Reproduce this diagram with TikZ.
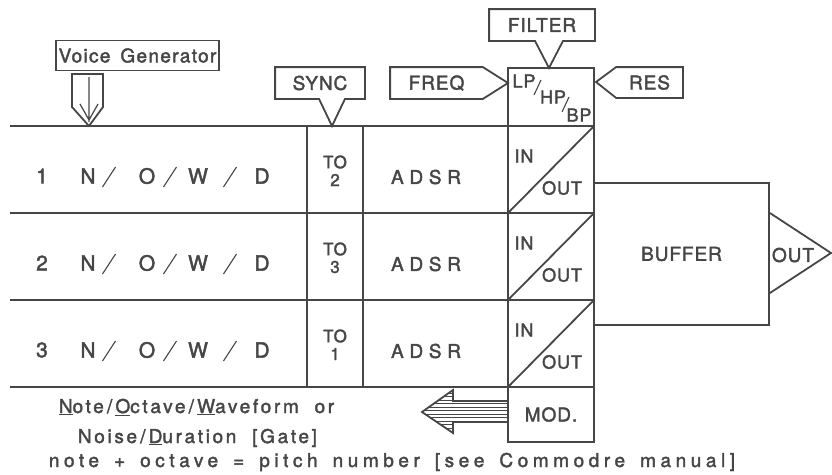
\documentclass[tikz,border=0pt]{standalone}
\usepackage{fontspec}
\setmainfont{TeX Gyre Heros}[LetterSpace=5, FakeBold=2]
\newfontfamily\lowerfont{TeX Gyre Heros}[LetterSpace=14, FakeBold=2]
\newfontfamily\spreadfont{TeX Gyre Heros}[LetterSpace=24, FakeBold=2]
\newfontfamily\adsrfont{TeX Gyre Heros}[LetterSpace=30, FakeBold=2]
\usetikzlibrary{calc}
\definecolor{ink}{RGB}{70,70,70}
\newcommand{\gap}{\hspace{15pt}}

\begin{document}
\begin{tikzpicture}[x=1pt, y=-1pt, line width=1.8pt, color=ink,
    font=\fontsize{19}{22}\selectfont,
    lbl/.style={inner sep=0pt, minimum height=30pt},
    cell/.style={font=\fontsize{18}{20}\selectfont, inner sep=0pt},
    rowtxt/.style={inner sep=0pt, font=\fontsize{21}{24}\selectfont},
    totxt/.style={inner sep=0pt, font=\fontsize{17}{19}\selectfont},
    legend/.style={anchor=base west, inner sep=0pt, font=\lowerfont\fontsize{19}{22}\selectfont},
    slashline/.style={line width=1.1pt},
    rowline/.style={line width=2.2pt},
    hatch/.style={line width=0.9pt}]
  \useasboundingbox (0,0) rectangle (832,474);

  % labels along the top
  \node[lbl, draw, minimum width=163pt] (vg) at (137.5,55.5)
    {{\addfontfeature{LetterSpace=7}Voice\hspace{10pt}Generator}};
  \draw (72,74) -- (103,74) -- (103,107) -- (89,126) -- (72,107) -- cycle;
  \draw[line width=1.2pt] (89,77) -- (89,122) (80,104) -- (89,120) -- (98,104);

  \node[lbl, minimum width=88pt] (sync) at (320,83) {SYNC};
  \coordinate (synctip) at (332,126);
  \draw (sync.south west) -- (sync.north west) -- (sync.north east) -- (sync.south east)
    -- ($(synctip |- sync.south)+(13,0)$) -- (synctip) -- ($(synctip |- sync.south)+(-13,0)$) -- cycle;

  \node[lbl, minimum width=91pt] (freq) at (436.5,83) {FREQ};
  \coordinate (freqtip) at (508,83);
  \draw (freq.south east) -- (freq.south west) -- (freq.north west) -- (freq.north east)
    -- (freqtip) -- cycle;

  \node[lbl, minimum width=104pt] (filt) at (542,25) {FILTER};
  \coordinate (filttip) at (549,68);
  \draw (filt.south west) -- (filt.north west) -- (filt.north east) -- (filt.south east)
    -- ($(filttip |- filt.south)+(14,0)$) -- (filttip) -- ($(filttip |- filt.south)+(-14,0)$) -- cycle;

  \node[lbl, minimum width=65pt, minimum height=29pt] (res) at (649.5,82.5) {RES};
  \coordinate (restip) at (596,82);
  \draw (res.north west) -- (res.north east) -- (res.south east) -- (res.south west)
    -- (restip) -- cycle;

  % filter mode cell
  \node[draw, inner sep=0pt, minimum width=86pt, minimum height=58pt] (mode) at (551,97) {};
  \node[cell] (lp) at (524,81) {LP};
  \node[cell] (hp) at (553,97) {HP};
  \node[cell] (bp) at (579,115) {BP};
  \draw[slashline] (534,95) -- (541,80) (562,112) -- (569,97);

  % voice rows
  \draw[rowline] (10,126) -- (594,126);
  \foreach \r/\t in {1/2, 2/3, 3/1} {
    \pgfmathsetmacro\ytop{126+87*(\r-1)}
    \pgfmathsetmacro\ybot{\ytop+87}
    \draw[rowline] (10,\ybot) -- (594,\ybot);
    \node[rowtxt] (num\r) at (42,\ytop+50) {\r};
    \node[rowtxt] (n\r) at (88,\ytop+50) {N};
    \node[rowtxt] (o\r) at (147,\ytop+50) {O};
    \node[rowtxt] (w\r) at (198,\ytop+50) {W};
    \node[rowtxt] (d\r) at (262,\ytop+50) {D};
    \foreach \sx in {109,170,230}
      \draw[slashline] (\sx-6.5,\ytop+61) -- (\sx+6.5,\ytop+41);
    \node[totxt] (to\r) at (335,\ytop+36) {TO};
    \node[totxt] (tn\r) at (335,\ytop+54) {\t};
    \node[inner sep=0pt, font=\adsrfont\fontsize{19}{22}\selectfont] (adsr\r) at (426,\ytop+51) {ADSR};
    \draw (508,\ybot) -- (594,\ytop);
    \node[cell] (in\r) at (524,\ytop+30) {IN};
    \node[cell] (out\r) at (562,\ytop+62) {OUT};
  }
  \draw (307,126) -- (307,387) (363,126) -- (363,387);
  \draw (508,68) -- (508,387) (594,68) -- (594,387);

  % modulation cell and arrow
  \node[draw, inner sep=0pt, minimum width=86pt, minimum height=55pt] (mod) at (551,414.5) {MOD.};
  \coordinate (modtip) at (422,412);
  \begin{scope}
    \clip (mod.west |- 0,401) -- (453,401) -- (453,390) -- (modtip) -- (453,433) -- (453,422) -- (mod.west |- 0,422) -- cycle;
    \foreach \hy in {393,396.5,...,432}
      \draw[hatch] (420,\hy) -- (508,\hy);
  \end{scope}
  \draw (mod.west |- 0,401) -- (453,401) -- (453,390) -- (modtip) -- (453,433) -- (453,422) -- (mod.west |- 0,422);

  % buffer and output
  \node[draw, inner sep=0pt, minimum width=175pt, minimum height=142pt] (buf) at (681.5,254) {BUFFER};
  \coordinate (outtip) at (831,253);
  \draw ($(buf.east)+(0,-41)$) -- (outtip) -- ($(buf.east)+(0,39)$);
  \node[inner sep=0pt] (out) at (793,255) {OUT};

  % legend
  \node[legend] (leg1) at (58,413)
    {\underline{N}ote\,/\,\underline{O}ctave\,/\,\underline{W}aveform\ \ or};
  \node[legend] (leg2) at (77,443)
    {Noise\,/\,\underline{D}uration\ \ [Gate]};
  \node[legend, font=\spreadfont\fontsize{19}{22}\selectfont] (leg3) at (48,467)
    {note\gap+\gap octave\gap=\gap pitch\gap number\gap[see\gap Commodre\gap manual]};
\end{tikzpicture}
\end{document}
